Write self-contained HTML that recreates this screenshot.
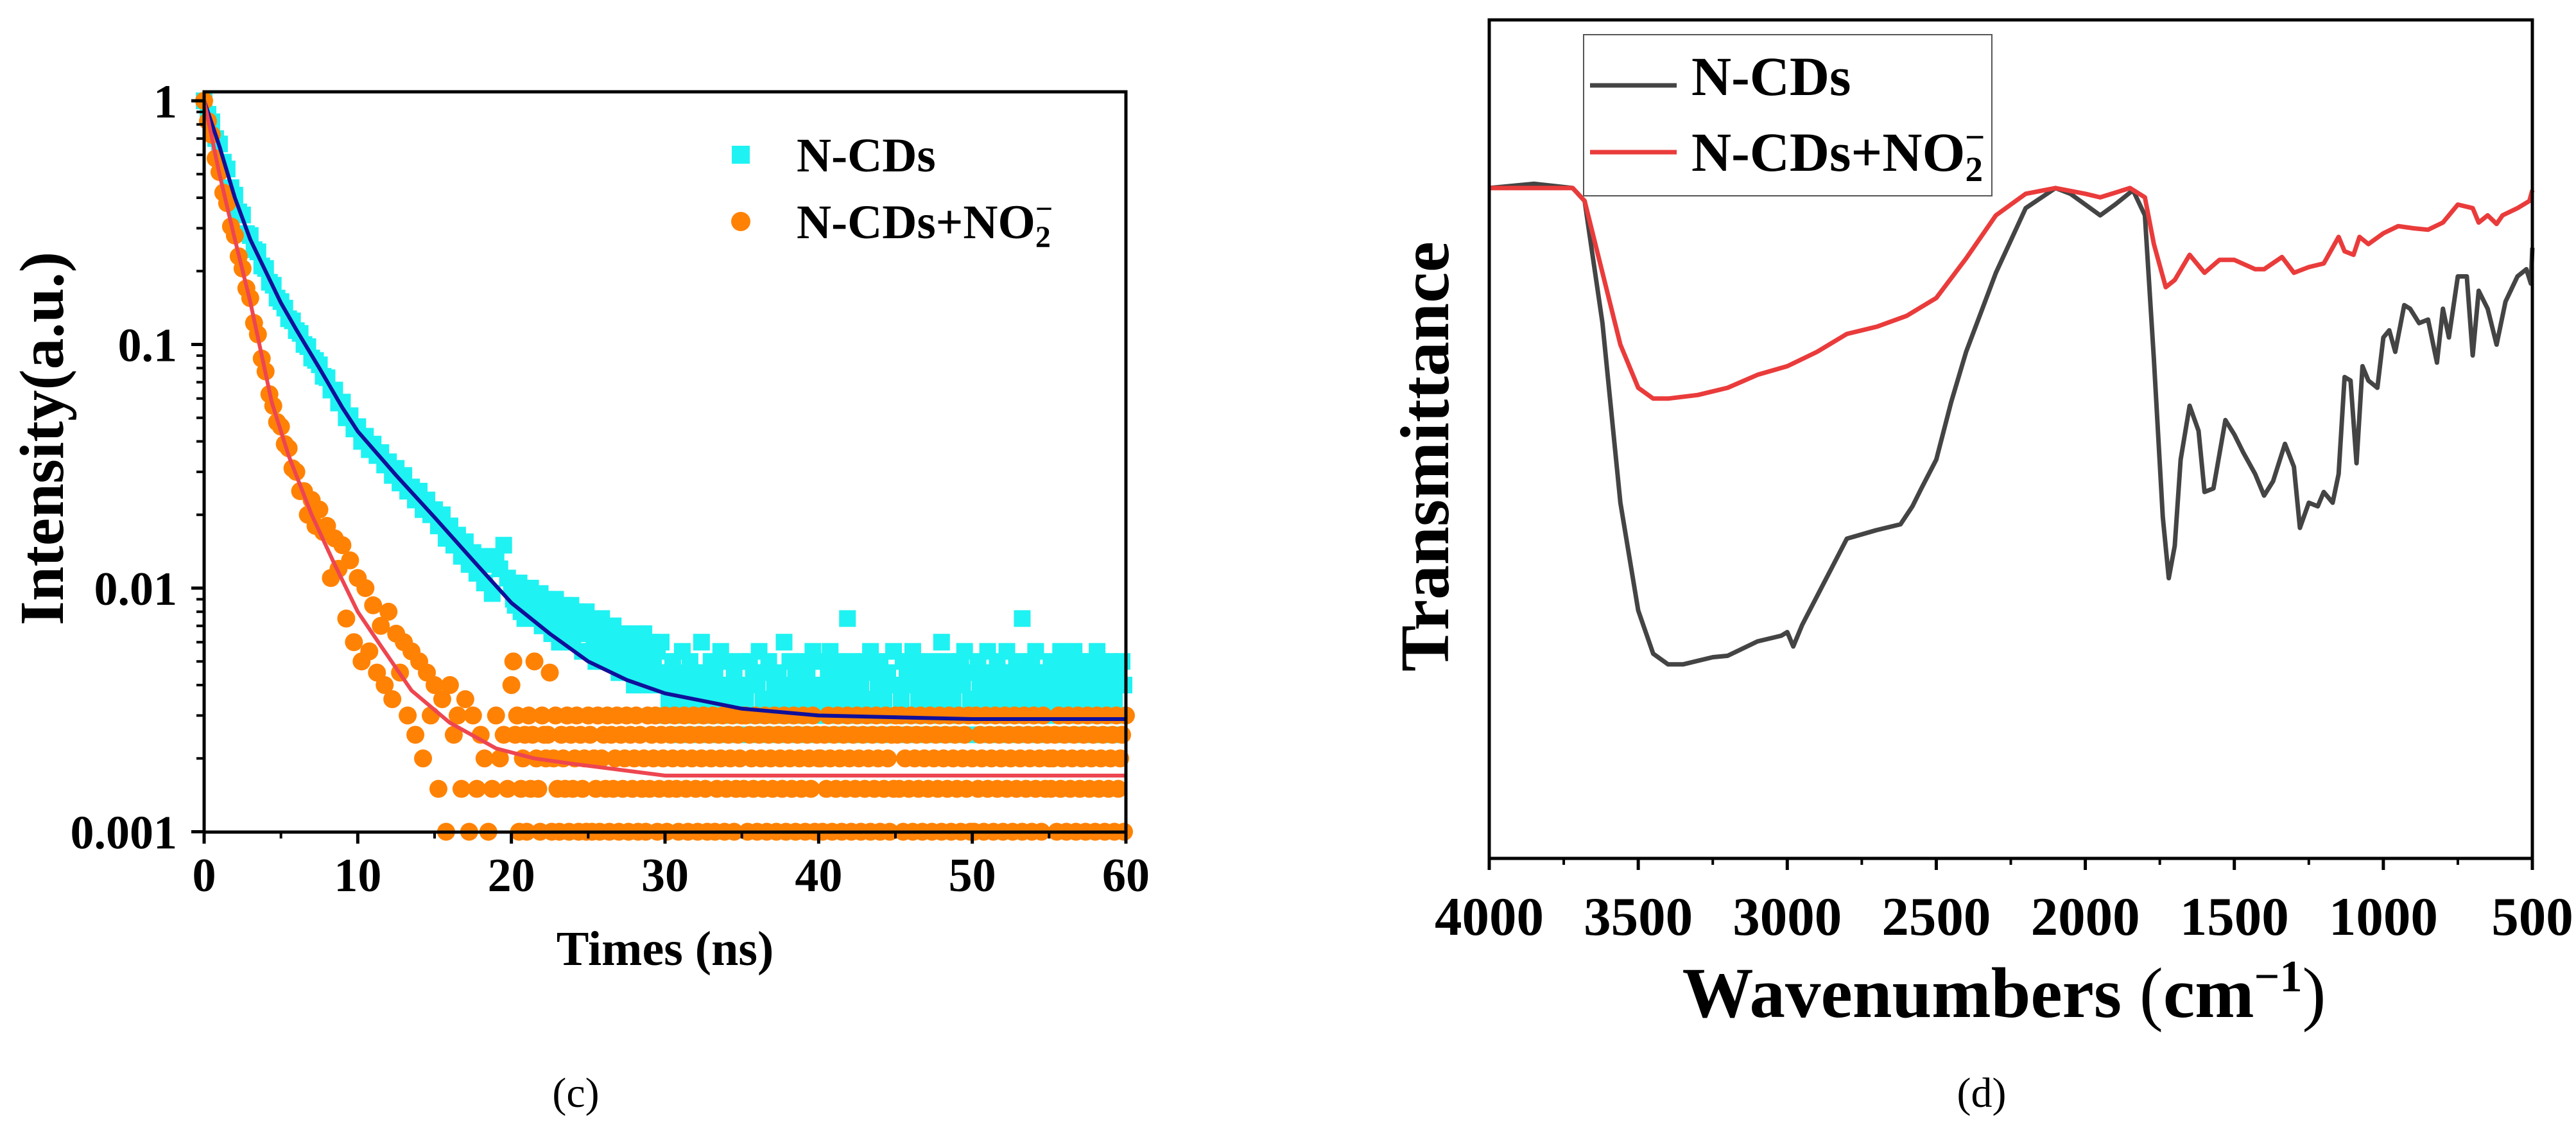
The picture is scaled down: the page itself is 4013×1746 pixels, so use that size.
<!DOCTYPE html>
<html><head><meta charset="utf-8"><style>
html,body{margin:0;padding:0;background:#fff;}
svg{display:block;font-family:"Liberation Serif","Times New Roman",serif;font-weight:bold;}
</style></head><body>
<svg id="s" width="4013" height="1746" viewBox="0 0 4013 1746" xmlns="http://www.w3.org/2000/svg" font-family="Liberation Serif, serif">
<g id="left"></g>
<g id="right"></g>
</svg>
<script>
// ---------- Chart (c) data ----------
const headStep = 0.25; // ns, points 0..19.75
const cyanHead = [2000,1760,1640,1400,1330,1120,1050,880,820,700,680,570,560,490,480,420,410,360,350,310,300,282,255,250,228,222,200,196,176,172,165,148,146,130,130,115,116,100,102,90,92,80,84,74,78,70,72,64,66,58,62,54,58,50,52,46,50,42,46,40,42,36,40,32,36,30,33,27,31,25,28,23,27,21,25,19,27,24,30,22];
const orangeHead = [2000,1650,1450,1160,1020,840,760,610,560,460,410,340,310,245,220,175,155,125,112,96,92,78,75,62,60,50,50,40,46,36,42,34,36,22,32,24,30,15,26,12,22,10,20,11,17,9,14,8,16,7,13,9,12,6,11,5,10,4,9,6,8,3,7,2,8,5,6,3,7,2,6,3,5,4,2,3,6,4,5,3];
const tailStart = 20, tailStep = 0.125; // ns
const cyanTail = ("kihjlgifjhkgihfjegihfdgiecgfhdfhcegdfbeg"+
"dbecadbfacbdaecb9dac9bda8cb9ad8bc9a8b9c8"+
"6978a5769b857a69586c7958a6975b8a6785976a"+
"5876a6958b6795a7685976c58a6795867a958b67"+
"7a5869b75a68795f7a5869875a6b7958a675968b"+
"6857a6958b6a7596879a5867c95a687596a8b597"+
"596a8675b9687a5968b7596a87f5968a7b596879"+
"7a6958b7a5968b75a6987a596b8a7596a87596a8").split('').map(c=>parseInt(c,36));
const orangeTail = ("8a5623452635a4326545924632543625346253426"+
"5243624536253462534625346253426354623546"+
"2354632546325463254632546235462354623546"+
"3625436254362543625436254362543625436254"+
"4253642536425364253642536425364253642536"+
"5362453624536245362453624536245362453624"+
"2635426354263542635426354263542635426354"+
"3452634526345263452634526345263452634526").split('').map(c=>parseInt(c,36));
const countUnit = 0.0005;
const blueFitT = [0,1,2,3,4,5,6,7.5,9,10,12.5,15,17.5,20,22.5,25,27.5,30,35,40,50,60];
const blueFitV = [1,0.65,0.4,0.27,0.2,0.148,0.115,0.08,0.055,0.044,0.029,0.0195,0.013,0.0087,0.0065,0.005,0.0042,0.0037,0.0032,0.003,0.0029,0.0029];
const redFitT = [0,1,2,3,4.4,5.5,7,8.5,10,11.5,13.5,16,19,21.5,24,30,60];
const redFitV = [1,0.5,0.27,0.15,0.058,0.035,0.02,0.0125,0.008,0.0058,0.0038,0.0028,0.0022,0.002,0.0019,0.0017,0.0017];
const xTicksC = [0,10,20,30,40,50,60];
const yTicksC = [1,0.1,0.01,0.001];
const yTickLabelsC = ["1","0.1","0.01","0.001"];

// ---------- Chart (d) data ----------
const wnBlack = [4000,3850,3720,3680,3620,3560,3500,3450,3400,3350,3250,3200,3100,3020,3000,2980,2950,2900,2850,2800,2700,2620,2580,2550,2500,2450,2400,2300,2200,2100,2050,1950,1900,1840,1800,1770,1740,1720,1700,1680,1650,1620,1600,1570,1530,1500,1470,1430,1400,1370,1330,1300,1280,1250,1220,1200,1170,1150,1130,1110,1090,1070,1050,1020,1000,980,960,930,910,880,850,820,800,780,750,720,700,680,650,620,590,550,520,505,500];
const trBlack = [933,939,933,915,745,495,345,285,270,270,280,282,302,310,315,295,325,365,405,445,457,465,490,515,555,635,705,815,905,933,925,895,910,930,895,695,475,390,435,555,630,595,510,515,610,590,565,535,505,525,577,545,460,495,490,510,495,535,670,665,550,685,665,655,725,735,705,770,765,745,750,690,765,725,810,810,700,790,765,715,775,810,820,800,850];
const wnRed = [4000,3720,3680,3620,3560,3500,3450,3400,3300,3200,3100,3000,2900,2800,2700,2600,2500,2400,2300,2200,2100,2000,1950,1850,1800,1770,1730,1700,1650,1600,1550,1500,1430,1400,1340,1300,1250,1200,1150,1130,1100,1080,1050,1000,950,900,850,800,780,750,700,680,650,620,600,550,510,500];
const trRed = [933,933,915,815,715,655,640,640,645,655,673,685,705,730,740,755,780,835,895,925,933,925,920,933,920,855,795,805,840,815,833,833,820,820,837,815,823,828,865,845,840,865,855,870,880,877,875,885,895,910,905,885,895,883,895,905,915,930];
const xTicksD = [4000,3500,3000,2500,2000,1500,1000,500];

const NS="http://www.w3.org/2000/svg";
function mk(tag, attrs, parent){const e=document.createElementNS(NS,tag);for(const k in attrs)e.setAttribute(k,attrs[k]);parent.appendChild(e);return e;}

// ===== Chart (c) =====
const L=document.getElementById('left');
const cx0=318,cx1=1754,cyTop=143,cyBot=1296,decade=379.5;
const xC=t=>cx0+t*(cx1-cx0)/60;
const yC=v=>157-Math.log10(v)*decade;
function series(head,tail){const pts=[];head.forEach((c,i)=>pts.push([i*headStep,c*countUnit]));tail.forEach((c,i)=>pts.push([tailStart+i*tailStep,c*countUnit]));return pts;}
const gc=mk('g',{},L);


series(cyanHead,cyanTail).forEach(p=>{mk('rect',{x:xC(p[0])-13,y:yC(p[1])-13,width:26,height:26,fill:'#1ff2f2'},gc);});
const go=mk('g',{},L);


series(orangeHead,orangeTail).forEach(p=>{mk('circle',{cx:xC(p[0]),cy:yC(p[1]),r:14,fill:'#ff8204'},go);});
function fitPath(T,V){return T.map((t,i)=>(i?'L':'M')+xC(t).toFixed(1)+' '+yC(V[i]).toFixed(1)).join(' ');}
const bf=mk('path',{d:fitPath(blueFitT,blueFitV),fill:'none',stroke:'#10109a','stroke-width':6,'stroke-linejoin':'round'},L);


const rf=mk('path',{d:fitPath(redFitT,redFitV),fill:'none',stroke:'#ee4650','stroke-width':6,'stroke-linejoin':'round'},L);


const fr=mk('rect',{x:cx0,y:cyTop,width:cx1-cx0,height:cyBot-cyTop,fill:'none',stroke:'#000','stroke-width':5},L);


yTicksC.forEach((v,i)=>{const y=yC(v);mk('line',{x1:cx0-20,x2:cx0,y1:y,y2:y,stroke:'#000','stroke-width':5},L);
 const t=mk('text',{x:276,y:y+26,'text-anchor':'end','font-size':74},L);t.textContent=yTickLabelsC[i];
 
 
 if(i<3){for(let m=2;m<=9;m++){const ym=yC(v/10*m);mk('line',{x1:cx0-12,x2:cx0,y1:ym,y2:ym,stroke:'#000','stroke-width':4},L);}}
});
xTicksC.forEach(t=>{const x=xC(t);mk('line',{x1:x,x2:x,y1:cyBot,y2:cyBot+18,stroke:'#000','stroke-width':5},L);
 if(t<60)mk('line',{x1:xC(t+5),x2:xC(t+5),y1:cyBot,y2:cyBot+10,stroke:'#000','stroke-width':4},L);
 const tx=mk('text',{x:x,y:1388,'text-anchor':'middle','font-size':74},L);tx.textContent=String(t);
 
 
});
let e;
e=mk('text',{x:1036,y:1503,'text-anchor':'middle','font-size':76},L);e.textContent='Times (ns)';


e=mk('text',{x:0,y:0,'text-anchor':'middle','font-size':97,transform:'translate(98,683) rotate(-90)'},L);e.textContent='Intensity(a.u.)';


e=mk('text',{x:897,y:1724,'text-anchor':'middle','font-size':66,'font-weight':'normal'},L);e.textContent='(c)';


e=mk('rect',{x:1140,y:227,width:28,height:28,fill:'#1ff2f2'},L);


e=mk('circle',{cx:1154,cy:345,r:15,fill:'#ff8204'},L);


e=mk('text',{x:1241,y:267,'font-size':75},L);e.textContent='N-CDs';


e=mk('text',{x:1241,y:371,'font-size':75},L);
e.innerHTML='N-CDs+NO<tspan font-size="48" dy="14">2</tspan><tspan font-size="48" dx="-24" dy="-44">−</tspan>';



// ===== Chart (d) =====
const R=document.getElementById('right');
const dx0=2320,dx1=3945,dyTop=31,dyBot=1337;
const xD=w=>dx0+(4000-w)/3500*(dx1-dx0);
const yD=v=>dyBot-v/1167*(dyBot-dyTop);
function specPath(W,T){return W.map((w,i)=>(i?'L':'M')+xD(w).toFixed(1)+' '+yD(T[i]).toFixed(1)).join(' ');}
e=mk('path',{d:specPath(wnBlack,trBlack),fill:'none',stroke:'#444','stroke-width':7,'stroke-linejoin':'round'},R);


e=mk('path',{d:specPath(wnRed,trRed),fill:'none',stroke:'#ea3b3b','stroke-width':7,'stroke-linejoin':'round'},R);


e=mk('rect',{x:dx0,y:dyTop,width:dx1-dx0,height:dyBot-dyTop,fill:'none',stroke:'#000','stroke-width':5},R);


xTicksD.forEach(w=>{const x=xD(w);mk('line',{x1:x,x2:x,y1:dyBot,y2:dyBot+18,stroke:'#000','stroke-width':5},R);
 if(w>500)mk('line',{x1:xD(w-250),x2:xD(w-250),y1:dyBot,y2:dyBot+10,stroke:'#000','stroke-width':4},R);
 const tx=mk('text',{x:x,y:1456,'text-anchor':'middle','font-size':85},R);tx.textContent=String(w);
 
 
});
e=mk('text',{x:3122,y:1584,'text-anchor':'middle','font-size':111},R);
e.innerHTML='Wavenumbers <tspan font-weight="normal">(</tspan>cm<tspan font-size="70" dy="-40">−1</tspan><tspan dy="40" font-weight="normal">)</tspan>';


e=mk('text',{x:0,y:0,'text-anchor':'middle','font-size':108,transform:'translate(2256,711) rotate(-90)'},R);e.textContent='Transmittance';


e=mk('text',{x:3087,y:1724,'text-anchor':'middle','font-size':66,'font-weight':'normal'},R);e.textContent='(d)';


e=mk('rect',{x:2467,y:54,width:636,height:251,fill:'#fff',stroke:'#555','stroke-width':2},R);


e=mk('line',{x1:2477,x2:2612,y1:133,y2:133,stroke:'#444','stroke-width':7},R);


e=mk('line',{x1:2477,x2:2612,y1:237,y2:237,stroke:'#ea3b3b','stroke-width':7},R);


e=mk('text',{x:2635,y:148,'font-size':86},R);e.textContent='N-CDs';


e=mk('text',{x:2635,y:266,'font-size':86},R);
e.innerHTML='N-CDs+NO<tspan font-size="55" dy="16">2</tspan><tspan font-size="55" dx="-28" dy="-50">−</tspan>';


</script>
</body></html>
